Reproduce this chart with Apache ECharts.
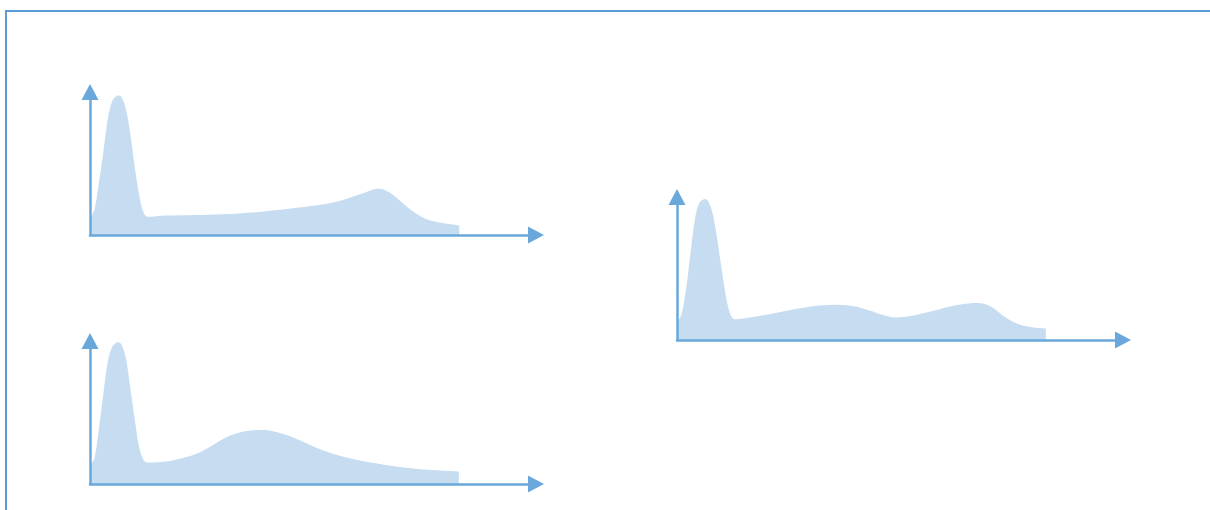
<!DOCTYPE html>
<html>
<head>
<meta charset="utf-8">
<script src="https://cdn.jsdelivr.net/npm/echarts@6/dist/echarts.min.js"></script>
<style>
  html, body { margin: 0; padding: 0; background: #fff; }
  #main { width: 1210px; height: 510px; }
</style>
</head>
<body>
<div id="main"></div>
<script>
// density curves, x in 0..100, y in 0..100 (relative height)
var curveTopLeft = [
  [0, 11.5], [1, 17.8], [2, 36.7], [3, 58.4], [4, 81.5], [5, 93.7], [6, 97.3],
  [6.35, 97.6], [7, 96.8], [8, 88.5], [9, 71.7], [10, 48.3], [11, 28.3], [12, 15.7],
  [13, 12.7], [16, 13.5], [22, 13.8], [28, 14.3], [34, 15.2], [40, 16.8], [45, 18.5],
  [50, 20.4], [54, 22.4], [57, 24.8], [60, 28.0], [62, 30.1], [64, 32.1], [65, 32.3],
  [66, 31.6], [68, 28.0], [70, 22.5], [72, 17.5], [74, 13.3], [76, 10.5], [78, 8.9],
  [80, 7.8], [82.8, 6.6]
];
var curveRight = [
  [0, 12.1], [1, 18.0], [2, 35.2], [3, 60.0], [4, 84.1], [5, 96.0], [6, 98.5],
  [6.2, 98.6], [7, 97.1], [8, 88.3], [9, 70.8], [10, 49.9], [11, 30.3], [12, 17.7],
  [13, 14.5], [14, 14.7], [16, 15.6], [20, 17.6], [24, 20.1], [28, 22.4], [32, 24.1],
  [36, 24.7], [40, 23.4], [43, 20.8], [46, 17.7], [49, 15.8], [52, 16.6], [55, 18.5],
  [58, 20.8], [61, 23.3], [64, 25.0], [67, 25.9], [69, 25.2], [71, 22.2], [73, 17.3],
  [75, 13.3], [77, 10.7], [80, 8.8], [82.7, 8.1]
];
var curveBottomLeft = [
  [0, 12.9], [1, 18.2], [2, 38.8], [3, 63.3], [4, 85.7], [5, 96.2], [6, 99.0],
  [6.35, 99.2], [7, 97.9], [8, 88.5], [9, 68.2], [10, 45.8], [11, 26.2], [12, 16.8],
  [13, 15.0], [16, 15.3], [20, 17.5], [24, 21.3], [27, 26.2], [30, 31.8], [33, 35.5],
  [36, 37.4], [39, 37.8], [42, 36.2], [45, 33.2], [48, 29.2], [51, 25.0], [55, 20.6],
  [60, 16.8], [65, 14.0], [70, 11.8], [76, 9.9], [82.7, 8.7]
];

var curves = [curveTopLeft, curveRight, curveBottomLeft];

var axisColor = '#6aa8dc';
var fillColor = '#c6ddf1';

var chart = echarts.init(document.getElementById('main'));

function makeAxis(i) {
  return {
    type: 'value',
    gridIndex: i,
    min: 0,
    max: 100,
    z: 5,
    axisLine: {
      show: true,
      symbol: ['none', 'triangle'],
      symbolSize: [17, 16],
      lineStyle: { color: axisColor, width: 2.5 }
    },
    axisTick: { show: false },
    axisLabel: { show: false },
    splitLine: { show: false }
  };
}

chart.setOption({
  animation: false,
  backgroundColor: '#fff',
  graphic: [{
    type: 'rect',
    shape: { x: 6, y: 11, width: 1300, height: 600 },
    style: { fill: 'none', stroke: '#5b9bd5', lineWidth: 2 },
    silent: true
  }],
  grid: [
    { left: 90, top: 92, width: 446, height: 143 },
    { left: 677, top: 197, width: 446, height: 143 },
    { left: 90, top: 341, width: 446, height: 143 }
  ],
  xAxis: [makeAxis(0), makeAxis(1), makeAxis(2)],
  yAxis: [makeAxis(0), makeAxis(1), makeAxis(2)],
  series: curves.map(function (d, i) {
    return {
      type: 'line',
      xAxisIndex: i,
      yAxisIndex: i,
      data: d,
      smooth: 0.35,
      showSymbol: false,
      lineStyle: { width: 0 },
      areaStyle: { color: fillColor, opacity: 1 }
    };
  })
});
</script>
</body>
</html>
